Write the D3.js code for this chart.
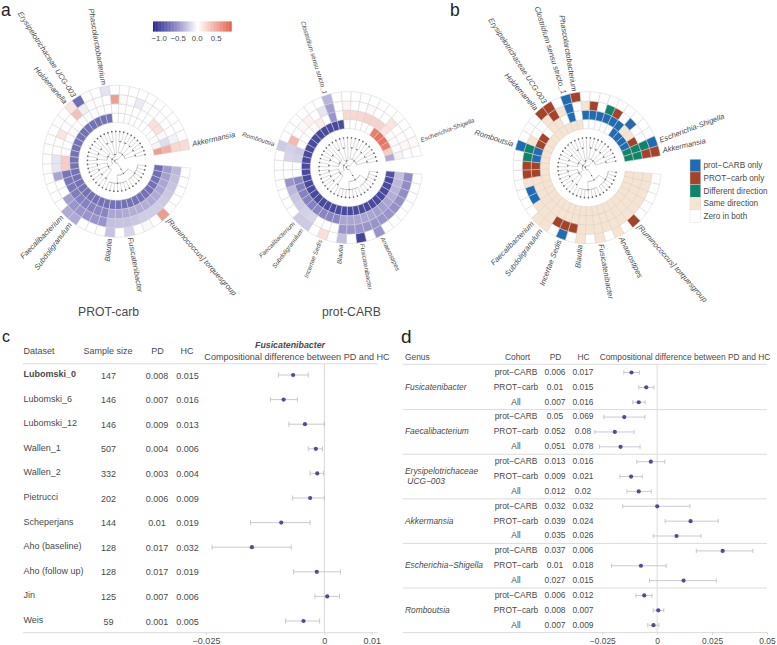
<!DOCTYPE html>
<html>
<head>
<meta charset="utf-8">
<script src="https://cdn.jsdelivr.net/npm/d3@7"></script>
<style>
  body { margin: 0; background: #fff; }
  text { font-family: "Liberation Sans", Arial, sans-serif; fill: #4a4a4a; }
</style>
</head>
<body>
<svg id="fig" width="777" height="645"></svg>
<script>
// ---- circular heatmaps: one value per sector (44), four rings, inner first
const prot_carb_r0 = [-.74,-.74,-.73,-.72,-.72,-.72,-.72,-.72,-.72,-.72,-.72,
  -.72,-.72,-.72,-.72,-.72,-.72,-.72,-.72,-.72,-.72,-.72,
  -.72,-.72,-.72,-.72,-.72,-.72,-.72,-.72,-.72,-.72,-.72,
  0,0,0,0,0,0,0,0,0,-.05,.55]
const prot_carb_r1 = [-.47,-.45,-.42,-.42,-.4,-.4,-.38,-.38,-.38,-.4,-.42,
  -.42,-.6,-.6,-.62,-.62,-.62,-.65,-.68,-.68,-.7,.28,
  .28,0,0,-.02,-.03,0,0,-.02,0,0,0,
  0,0,0,0,0,0,.18,.18,-.03,-.16,.45]
const prot_carb_r2 = [-.33,-.3,-.28,-.26,-.25,-.24,-.24,-.24,-.26,-.28,-.28,
  -.3,-.5,-.5,-.5,-.5,-.5,-.45,0,0,-.42,-.12,
  -.12,.02,.02,.15,0,0,.35,-.08,.01,0,0,
  .55,.03,0,-.1,.03,0,0,0,0,-.06,.22]
const prot_carb_r3 = [0,0,0,0,0,.55,0,-.03,0,-.2,0,
  -.28,0,0,0,-.4,-.4,0,0,0,0,0,
  0,0,0,0,0,0,.15,-.75,0,0,-.13,
  0,0,0,0,0,0,0,0,0,0,.2]

const carb_prot_r0 = [-.92,-.97,-.97,-.97,-.97,-.97,-.97,-.97,-.97,-.97,-.97,
  -.97,-.97,-.97,-.97,-.97,-.97,-.97,-.97,-.97,-.97,-.97,
  -.97,-.97,-.97,-.97,-.97,-.97,-.97,-.97,-.97,-.97,-.97,
  0,0,0,0,0,.72,.78,.78,.72,.28,-.4]
const carb_prot_r1 = [-.3,-.33,-.35,-.38,-.42,-.45,-.45,-.42,-.42,-.42,-.42,
  -.42,-.58,-.6,-.6,-.6,-.62,-.62,-.62,-.62,-.6,0,
  0,-.22,-.25,0,0,0,.04,.1,0,-.5,0,
  .22,.22,.22,.25,.25,.25,.15,.03,.03,.03,-.06]
const carb_prot_r2 = [-.55,-.55,-.55,-.52,-.52,-.5,-.5,-.5,-.5,-.5,-.5,
  -.5,0,0,0,-.2,-.22,-.25,-.27,-.33,-.5,0,
  0,-.2,-.22,.4,0,.04,.08,0,-.12,-.45,0,
  .06,0,0,.04,0,0,.15,0,0,.05,0]
const carb_prot_r3 = [0,0,0,0,0,0,0,-.5,0,-1,0,
  -.3,0,.18,0,-.25,-.25,0,0,0,0,0,
  0,0,-.25,0,0,0,0,0,0,-.35,0,
  0,0,0,0,0,0,0,0,0,.04,0]

// . zero  S same  P prot-CARB only  C PROT-carb only  D different
const cat_r0 = "SSSSSSSSSSSSSSSSSSSSSSSSSSSSSSSSS.....PPPPDD"
const cat_r1 = "SSSSSSSSSSSSSSSSSSSSSCCPPCC.SS.P.PPPPPPSSCDD"
const cat_r2 = "SSSSSSSSSSSSCCCSSSPPSCCDDS..SCSP.SC.DC.P..DC"
const cat_r3 = ".....C.S.S.S.P.SS.......P...CC.PC.........PC"

const labels_prot_carb = [[5, "[Ruminococcus] torquesgroup"], [9, "Fusicatenibacter"], [11, "Blautia"],
  [15, "Subdoligranulum"], [16, "Faecalibacterium"], [28, "Holdemanella"],
  [29, "Erysipelotrichaceae UCG-003"], [32, "Phascolarctobacterium"], [43, "Akkermansia"]]
const labels_carb_prot = [[7, "Anaerostipes"], [9, "Fusicatenibacter"], [11, "Blautia"], [13, "Incertae Sedis"],
  [15, "Subdoligranulum"], [16, "Faecalibacterium"], [24, "Romboutsia"],
  [31, "Clostridium sensu stricto_1"], [42, "Escherichia-Shigella"]]
const labels_diff = [[5, "[Ruminococcus] torquesgroup"], [7, "Anaerostipes"], [9, "Fusicatenibacter"], [11, "Blautia"],
  [13, "Incertae Sedis"], [15, "Subdoligranulum"], [16, "Faecalibacterium"], [24, "Romboutsia"],
  [28, "Holdemanella"], [29, "Erysipelotrichaceae UCG-003"], [31, "Clostridium sensu stricto_1"],
  [32, "Phascolarctobacterium"], [42, "Escherichia-Shigella"], [43, "Akkermansia"]]

const legend_names = ["prot\u2212CARB only", "PROT\u2212carb only", "Different direction", "Same direction", "Zero in both"]
const legend_keys = ["P", "C", "D", "S", "."]
const legend_colors = ["#1f6cb4", "#a5432a", "#0f8468", "#f7e4d0", "#ffffff"]
const bar_ticks = [-1, -0.5, 0, 0.5]

// ---- panel c
const c_datasets = ["Lubomski_0", "Lubomski_6", "Lubomski_12", "Wallen_1", "Wallen_2", "Pietrucci", "Scheperjans", "Aho (baseline)", "Aho (follow up)", "Jin", "Weis"]
const c_sizes = ["147", "146", "146", "507", "332", "202", "144", "128", "128", "125", "59"]
const c_pd = ["0.008", "0.007", "0.009", "0.004", "0.003", "0.006", "0.01", "0.017", "0.017", "0.007", "0.001"]
const c_hc = ["0.015", "0.016", "0.013", "0.006", "0.004", "0.009", "0.019", "0.032", "0.019", "0.006", "0.005"]
const c_est = [-.0066, -.0086, -.0041, -.0018, -.0015, -.003, -.0091, -.0153, -.0016, .0006, -.0044]
const c_lo = [-.0097, -.0114, -.0075, -.0034, -.003, -.0067, -.0156, -.0237, -.0065, -.002, -.0082]
const c_hi = [-.0034, -.0057, 0, -.0004, -.0002, 0, -.003, -.007, .0034, .0032, -.001]

// ---- panel d
const d_genera = ["Fusicatenibacter", "Faecalibacterium", "Erysipelotrichaceae\n UCG\u2212003", "Akkermansia", "Escherichia\u2212Shigella", "Romboutsia"]
const d_cohorts = ["prot\u2212CARB", "PROT\u2212carb", "All"]
const d_pd = ["0.006", "0.01", "0.007", "0.05", "0.052", "0.051", "0.013", "0.009", "0.012", "0.032", "0.039", "0.035", "0.037", "0.01", "0.027", "0.006", "0.008", "0.007"]
const d_hc = ["0.017", "0.015", "0.016", "0.069", "0.08", "0.078", "0.016", "0.021", "0.02", "0.032", "0.024", "0.026", "0.006", "0.018", "0.015", "0.012", "0.007", "0.009"]
const d_est = [-.0117, -.005, -.0084, -.015, -.0193, -.0167, -.0029, -.0119, -.0084, 0, .0152, .0088, .0298, -.0074, .012, -.0059, .0005, -.0017]
const d_lo = [-.0152, -.0084, -.0111, -.0243, -.0284, -.0263, -.0093, -.017, -.0138, -.0157, .0036, -.0018, .0178, -.0208, -.0035, -.0097, -.0018, -.0043]
const d_hi = [-.0081, -.0015, -.0055, -.0056, -.0105, -.0078, .0035, -.0068, -.0027, .0149, .0278, .0199, .0436, .0041, .0269, -.0024, .003, .0008]

const svg = d3.select("#fig")
const color = d3.scaleLinear().domain([-1.16, -.5, 0, .89]).range(["#2a2a8e", "#9a94cc", "#ffffff", "#e5604a"])
const cat_color = d3.scaleOrdinal().domain(legend_keys).range(legend_colors)

const sectors = d3.range(44)
const gap_lo = 95 * Math.PI / 180, gap_hi = (360 + 81) * Math.PI / 180
const angle = d3.scaleBand().domain(sectors).range([gap_lo, gap_hi])
const radius = d3.scaleBand().domain([0, 1, 2, 3]).range([39, 76])
const arc = d3.arc()

// dendrogram is the same in the three wheels
function leaf(k) { return {k: k} }
function pair(a) { return {r: 20, children: [leaf(a), leaf(a + 1)]} }
function fan(a, b, r) { return {r: r, children: d3.range(a, b + 1).map(leaf)} }
const tree_data = {r: 2, children: [
  {r: 9, children: [
    {r: 14, children: [fan(0, 6, 22), fan(7, 13, 22)]}
  ]},
  {r: 5, children: [
    {r: 10, children: [pair(14), pair(16), pair(18), pair(20)]},
    {r: 10, children: [pair(22), pair(24), pair(26), leaf(28)]},
    {r: 7, children: [pair(29), pair(31), leaf(33)]}
  ]},
  {r: 9, children: [pair(34), pair(36), pair(38), pair(40), pair(42)]}
]}

function drawTree(g) {
  const root = d3.hierarchy(tree_data)
  root.eachAfter(n => {
    n.a = n.children ? d3.mean(n.children, c => c.a) : angle(n.data.k) + angle.bandwidth() / 2
    n.r = n.children ? n.data.r : 30
  })
  const spoke = d3.lineRadial().angle(d => d[0]).radius(d => d[1])
  root.descendants().filter(n => n.children).forEach(n => {
    const extent = d3.extent(n.children, c => c.a)
    g.append("path")
      .attr("d", arc({innerRadius: n.r, outerRadius: n.r, startAngle: extent[0], endAngle: extent[1]}))
      .attr("fill", "none").attr("stroke", "#a0a0a0").attr("stroke-width", .4)
    n.children.forEach(c => {
      g.append("path").attr("d", spoke([[c.a, n.r], [c.a, c.r]]))
        .attr("fill", "none").attr("stroke", "#a0a0a0").attr("stroke-width", .4)
    })
  })
  g.selectAll("circle").data(root.descendants()).join("circle")
    .attr("cx", d => d.r * Math.sin(d.a))
    .attr("cy", d => -d.r * Math.cos(d.a))
    .attr("r", d => d.children ? .7 : .85)
    .attr("fill", "#666")
}

function drawWheel(cx, cy, rings, fill, labels, fontSize) {
  const outer = svg.append("g").attr("transform", `translate(${cx},${cy})`)
  const g = outer.append("g").attr("transform", "scale(.975,1)")
  rings.forEach((vals, i) => {
    g.append("g").selectAll("path").data(sectors).join("path")
      .attr("d", k => arc({
        innerRadius: radius(i), outerRadius: radius(i) + radius.bandwidth(),
        startAngle: angle(k), endAngle: angle(k) + angle.bandwidth()
      }))
      .attr("fill", k => fill(vals[k]))
      .attr("stroke", "#d2d2d2").attr("stroke-width", .5)
  })
  drawTree(g.append("g"))
  const r_text = radius(3) + radius.bandwidth() + 1.5
  outer.append("g").selectAll("text").data(labels).join("text")
    .attr("transform", d => {
      const deg = (angle(d[0]) + angle.bandwidth() / 2) * 180 / Math.PI - 90
      const right = Math.cos(deg * Math.PI / 180) > 0
      return right ? `rotate(${deg}) translate(${r_text},0)` : `rotate(${deg}) translate(${r_text},0) rotate(180)`
    })
    .attr("text-anchor", d => Math.cos((angle(d[0]) + angle.bandwidth() / 2) - Math.PI / 2) > 0 ? "start" : "end")
    .attr("dy", "0.35em")
    .attr("font-size", fontSize)
    .attr("font-style", "italic")
    .text(d => d[1])
}

drawWheel(116.6, 161.3, [prot_carb_r0, prot_carb_r1, prot_carb_r2, prot_carb_r3], color, labels_prot_carb, 7.6)
drawWheel(348.3, 167.6, [carb_prot_r0, carb_prot_r1, carb_prot_r2, carb_prot_r3], color, labels_carb_prot, 6.3)
drawWheel(587.2, 167.7, [cat_r0, cat_r1, cat_r2, cat_r3], cat_color, labels_diff, 7.6)

svg.append("text").attr("x", 108.6).attr("y", 316).attr("text-anchor", "middle").attr("font-size", 12.2).text("PROT-carb")
svg.append("text").attr("x", 351.5).attr("y", 316).attr("text-anchor", "middle").attr("font-size", 12.2).text("prot-CARB")

// colour bar
const bar = d3.scaleLinear().domain([-1.16, .89]).range([153, 231])
svg.append("g").selectAll("rect").data(d3.range(-1.16, .89, .02)).join("rect")
  .attr("x", d => bar(d)).attr("y", 21.5).attr("width", bar(.03) - bar(0)).attr("height", 10)
  .attr("fill", d => color(d))
svg.append("g").selectAll("text").data(bar_ticks).join("text")
  .attr("x", d => bar(d)).attr("y", 40.5).attr("text-anchor", "middle").attr("font-size", 7.8)
  .text(d => d3.format(".1f")(d).replace("-", "\u2212"))

// legend of panel b
const leg = d3.scaleBand().domain(legend_names).range([159.3, 222.5])
svg.append("g").selectAll("rect").data(legend_names).join("rect")
  .attr("x", 690).attr("y", d => leg(d)).attr("width", 10.7).attr("height", leg.bandwidth())
  .attr("fill", (d, i) => legend_colors[i]).attr("stroke", "#d8d8d8").attr("stroke-width", .4)
svg.append("g").selectAll("text").data(legend_names).join("text")
  .attr("x", 703.5).attr("y", d => leg(d) + leg.bandwidth() / 2).attr("dy", "0.35em")
  .attr("font-size", 8.2).text(d => d)

// panel letters
const letters = [["a", 1, 16, 17.5], ["b", 450, 16, 17.5], ["c", 2, 342, 16], ["d", 401, 343, 19]]
svg.append("g").selectAll("text").data(letters).join("text")
  .attr("x", d => d[1]).attr("y", d => d[2]).attr("font-size", d => d[3])
  .style("fill", "#222").text(d => d[0])

// ---- forest helpers
function hline(x1, x2, y) {
  svg.append("line").attr("x1", x1).attr("x2", x2).attr("y1", y).attr("y2", y)
    .attr("stroke", "#dcdcdc").attr("stroke-width", 1)
}
function tcol(xx, yy, vals, anchor, size) {
  const g = svg.append("g")
  g.selectAll("text").data(vals).join("text")
    .attr("x", xx).attr("y", (d, i) => yy(i)).attr("text-anchor", anchor)
    .attr("font-size", size || 8.4).text(d => d)
  return g
}
function forest(x, y, est, lo, hi, cap) {
  const g = svg.append("g")
  const ids = d3.range(est.length)
  g.selectAll("line.ci").data(ids).join("line").attr("class", "ci")
    .attr("x1", i => x(lo[i])).attr("x2", i => x(hi[i])).attr("y1", y).attr("y2", y)
  g.selectAll("line.l").data(ids).join("line").attr("class", "l")
    .attr("x1", i => x(lo[i])).attr("x2", i => x(lo[i])).attr("y1", i => y(i) - cap).attr("y2", i => y(i) + cap)
  g.selectAll("line.h").data(ids).join("line").attr("class", "h")
    .attr("x1", i => x(hi[i])).attr("x2", i => x(hi[i])).attr("y1", i => y(i) - cap).attr("y2", i => y(i) + cap)
  g.selectAll("line").attr("stroke", "#bdbdc8").attr("stroke-width", .8)
  g.selectAll("circle").data(ids).join("circle")
    .attr("cx", i => x(est[i])).attr("cy", y).attr("r", 2.1).attr("fill", "#514c8e")
}
function bottomAxis(x, yPos, ticks, names, size) {
  const g = svg.append("g").attr("transform", `translate(0,${yPos})`)
    .call(d3.axisBottom(x).tickValues(ticks).tickSize(2).tickFormat((d, i) => names[i]))
  g.select(".domain").remove()
  g.selectAll("line").attr("stroke", "#cfcfcf")
  g.selectAll("text").attr("font-size", size).attr("font-family", "Liberation Sans").attr("dy", "0.75em").style("fill", "#4a4a4a")
}

// ---- panel c
const cx_scale = d3.scaleLinear().domain([-.025, .01]).range([206, 371.7])
const cy_scale = d3.scaleLinear().domain([0, 10]).range([375, 621])
hline(23, 378, 363.8)
hline(23, 378, 632.7)
svg.append("line").attr("x1", cx_scale(0)).attr("x2", cx_scale(0)).attr("y1", 364).attr("y2", 633).attr("stroke", "#d9d9d9").attr("stroke-width", 1)
tcol(23.5, i => cy_scale(i) + 2, c_datasets, "start", 9)
  .selectAll("text").attr("font-weight", (d, i) => i === 0 ? "bold" : null)
tcol(108.5, i => cy_scale(i) + 3.5, c_sizes, "middle", 9)
tcol(157, i => cy_scale(i) + 3.5, c_pd, "middle", 9)
tcol(187.5, i => cy_scale(i) + 3.5, c_hc, "middle", 9)
tcol(23.5, () => 354, ["Dataset"], "start", 9)
tcol(108, () => 354, ["Sample size"], "middle", 9)
tcol(157.5, () => 354, ["PD"], "middle", 9)
tcol(187, () => 354, ["HC"], "middle", 9)
svg.append("text").attr("x", 290).attr("y", 348).attr("text-anchor", "middle").attr("font-size", 8.8)
  .attr("font-weight", "bold").attr("font-style", "italic").text("Fusicatenibacter")
tcol(297, () => 360, ["Compositional difference between PD and HC"], "middle", 9.1)
forest(cx_scale, cy_scale, c_est, c_lo, c_hi, 2.6)
bottomAxis(cx_scale, 632.7, [-.025, 0, .01], ["\u22120.025", "0", "0.01"], 9)

// ---- panel d
const dx_scale = d3.scaleLinear().domain([-.025, .05]).range([602.3, 767])
const dy_scale = d3.scaleLinear().domain([0, 17]).range([372.5, 625.2])
hline(403, 767, 364.3)
const d_groups = d3.range(6)
d_groups.forEach(g => hline(403, 767, dy_scale(g * 3 + 2) + 7.4))
svg.append("line").attr("x1", dx_scale(0)).attr("x2", dx_scale(0)).attr("y1", 364).attr("y2", 633).attr("stroke", "#e2e2e2").attr("stroke-width", 1.2)
tcol(405, () => 360, ["Genus"], "start")
tcol(517.5, () => 360, ["Cohort"], "middle")
tcol(555.5, () => 360, ["PD"], "middle")
tcol(583.5, () => 360, ["HC"], "middle")
tcol(685, () => 360, ["Compositional difference between PD and HC"], "middle")
const d_rows = d_pd.map((d, i) => i)
tcol(516, i => dy_scale(i) + 2.4, d_rows.map(i => d_cohorts[i % 3]), "middle")
tcol(555, i => dy_scale(i) + 2.4, d_pd, "middle")
tcol(583, i => dy_scale(i) + 2.4, d_hc, "middle")
const d_names = svg.append("g").selectAll("text").data(d_genera).join("text")
  .attr("x", 405).attr("y", (d, i) => dy_scale(i * 3 + 1) + (d.includes("\n") ? -3 : 2.5))
  .attr("font-size", 8.4).attr("font-style", "italic")
d_names.each(function(d) {
  d.split("\n").forEach((part, j) => {
    d3.select(this).append("tspan").attr("x", 405).attr("dy", j ? 10 : 0).attr("xml:space", "preserve").text(part)
  })
})
forest(dx_scale, dy_scale, d_est, d_lo, d_hi, 2.2)
bottomAxis(dx_scale, 632.5, [-.025, 0, .025, .05], ["\u22120.025", "0", "0.025", "0.05"], 8.4)
</script>
</body>
</html>
